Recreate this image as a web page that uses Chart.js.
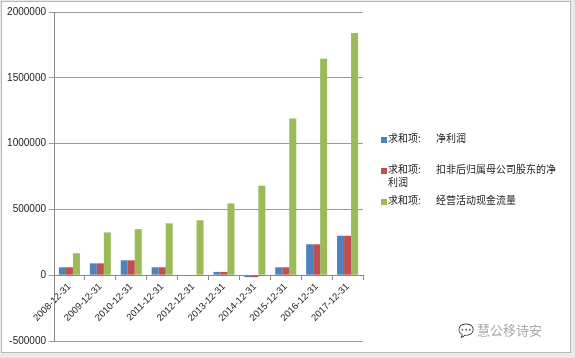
<!DOCTYPE html>
<html><head><meta charset="utf-8">
<script src="https://cdn.jsdelivr.net/npm/chart.js@4"></script>
<style>
html,body{margin:0;padding:0;background:#e9e9e9;}
#wrap{position:absolute;left:1px;top:1px;width:568px;height:350px;background:#fff;border:1px solid #b8b8b8;}
#c{position:absolute;left:0;top:0;}
.lg{position:absolute;font-family:"Noto Sans CJK SC",sans-serif;font-size:10px;color:#222;line-height:13px;}
.sw{position:absolute;width:6px;height:6px;}
#wm{position:absolute;left:458px;top:320px;font-family:"Noto Sans CJK SC",sans-serif;font-size:13px;color:#aaa;}
</style></head>
<body>
<div id="wrap"></div>
<canvas id="c" width="575" height="358"></canvas>
<div class="sw" style="left:381px;top:137px;background:#4F81BD"></div>
<div class="lg" style="left:388px;top:131px;">求和项:</div>
<div class="lg" style="left:436px;top:131px;">净利润</div>
<div class="sw" style="left:381px;top:168px;background:#C0504D"></div>
<div class="lg" style="left:388px;top:162px;">求和项:</div>
<div class="lg" style="left:436px;top:162px;">扣非后归属母公司股东的净</div>
<div class="lg" style="left:388px;top:175px;">利润</div>
<div class="sw" style="left:381px;top:199px;background:#9BBB59"></div>
<div class="lg" style="left:388px;top:193px;">求和项:</div>
<div class="lg" style="left:436px;top:193px;">经营活动现金流量</div>
<div id="wm">&#x1F4AC; 慧公移诗安</div>
<script>
const categories = ["2008-12-31","2009-12-31","2010-12-31","2011-12-31","2012-12-31","2013-12-31","2014-12-31","2015-12-31","2016-12-31","2017-12-31"];
const netProfit = [60000, 90000, 113000, 60000, 0, 25000, -15000, 60000, 235000, 300000];
const netProfitDeducted = [60000, 90000, 113000, 60000, 0, 25000, -15000, 60000, 235000, 300000];
const operatingCashFlow = [167000, 325000, 350000, 394000, 417000, 545000, 680000, 1190000, 1644000, 1840000];
const seriesNames = ["求和项:净利润","求和项:扣非后归属母公司股东的净利润","求和项:经营活动现金流量"];

new Chart(document.getElementById('c'), {
  type: 'bar',
  data: {
    labels: categories,
    datasets: [
      {label: seriesNames[0], data: netProfit, backgroundColor: '#4F81BD'},
      {label: seriesNames[1], data: netProfitDeducted, backgroundColor: '#C0504D'},
      {label: seriesNames[2], data: operatingCashFlow, backgroundColor: '#9BBB59'}
    ]
  },
  options: {
    responsive: false,
    animation: false,
    devicePixelRatio: 1,
    layout: {padding: {left: 0, right: 212, top: 12, bottom: 17}},
    datasets: {bar: {categoryPercentage: 0.68, barPercentage: 1.0}},
    plugins: {legend: {display: false}, tooltip: {enabled: false}},
    scales: {
      x: {
        position: {y: 0},
        offset: true,
        grid: {display: true, drawOnChartArea: false, drawTicks: true, tickLength: 4, color: '#888', offset: true},
        border: {display: true, color: '#888'},
        ticks: {minRotation: 45, maxRotation: 45, autoSkip: false, color: '#222', padding: 2,
          font: {family: 'Liberation Sans', size: 9.5}}
      },
      y: {
        min: -500000, max: 2000000,
        ticks: {stepSize: 500000, color: '#222', padding: 3, font: {family: 'Liberation Sans', size: 10},
          callback: (v) => String(v)},
        grid: {color: '#999', tickLength: 5},
        border: {display: true, color: '#888'},
        afterFit: (s) => { s.width = 54; }
      }
    }
  }
});
</script>
</body></html>
